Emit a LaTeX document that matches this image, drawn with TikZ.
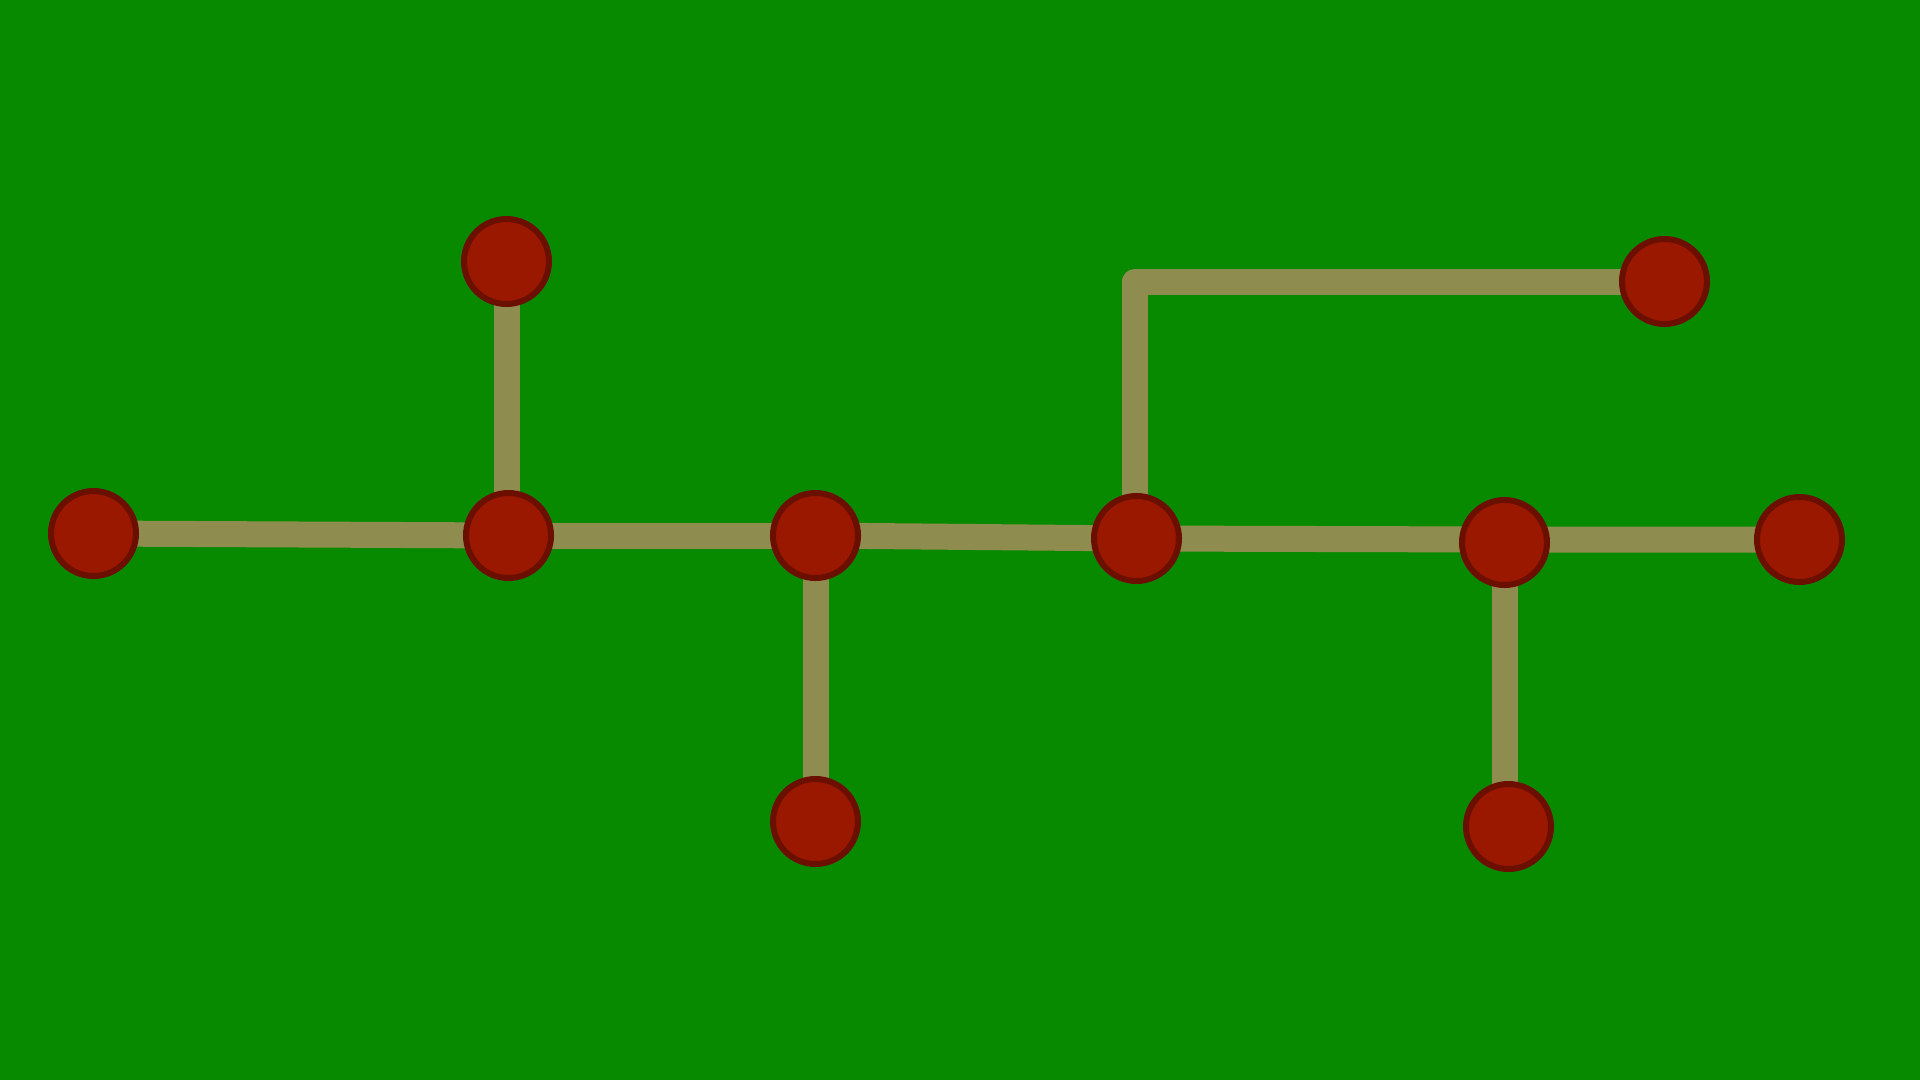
\documentclass[tikz,border=0pt]{standalone}
\pgfdeclarelayer{bglayer}
\pgfdeclarelayer{edgelayer}
\pgfsetlayers{bglayer,edgelayer,main}
\definecolor{bggreen}{RGB}{8,138,0}
\definecolor{edgeol}{RGB}{142,140,78}
\definecolor{nodered}{RGB}{155,24,0}
\definecolor{nodeborder}{RGB}{107,15,0}
\tikzset{
  dot/.style={circle, draw=nodeborder, fill=nodered, line width=6pt, minimum size=85pt, inner sep=0pt},
  wire/.style={draw=edgeol, line width=26pt, line join=round}
}
\begin{document}
\begin{tikzpicture}[x=1pt,y=-1pt]
\begin{pgfonlayer}{bglayer}
\fill[bggreen] (0,0) rectangle (1920,1080);
\end{pgfonlayer}
\useasboundingbox (0,0) rectangle (1920,1080);
\node[dot] (A) at (93.5,533.5) {};
\node[dot] (B) at (508.5,535.5) {};
\node[dot] (C) at (506.5,261.5) {};
\node[dot] (D) at (815.5,535.5) {};
\node[dot] (E) at (815.5,821.5) {};
\node[dot] (F) at (1136.5,538.5) {};
\node[dot] (G) at (1504.5,542.5) {};
\node[dot] (H) at (1508.5,826.5) {};
\node[dot] (I) at (1799.5,539.5) {};
\node[dot] (J) at (1664.5,281.5) {};
\begin{pgfonlayer}{edgelayer}
\draw[wire] (A.center) -- (B.center);
\draw[wire] (C.center |- B.center) -- (C.center);
\draw[wire] (B.center) -- (D.center);
\draw[wire] (D.center) -- (E.center);
\draw[wire] (D.center) -- (F.center);
\draw[wire] (F.center) -- (G.center |- I.center) -- (I.center);
\draw[wire] (G.center) -- (G.center |- H.center);
\draw[wire] ([xshift=-1.5pt]F.center) |- (J.center);
\end{pgfonlayer}
\end{tikzpicture}
\end{document}
